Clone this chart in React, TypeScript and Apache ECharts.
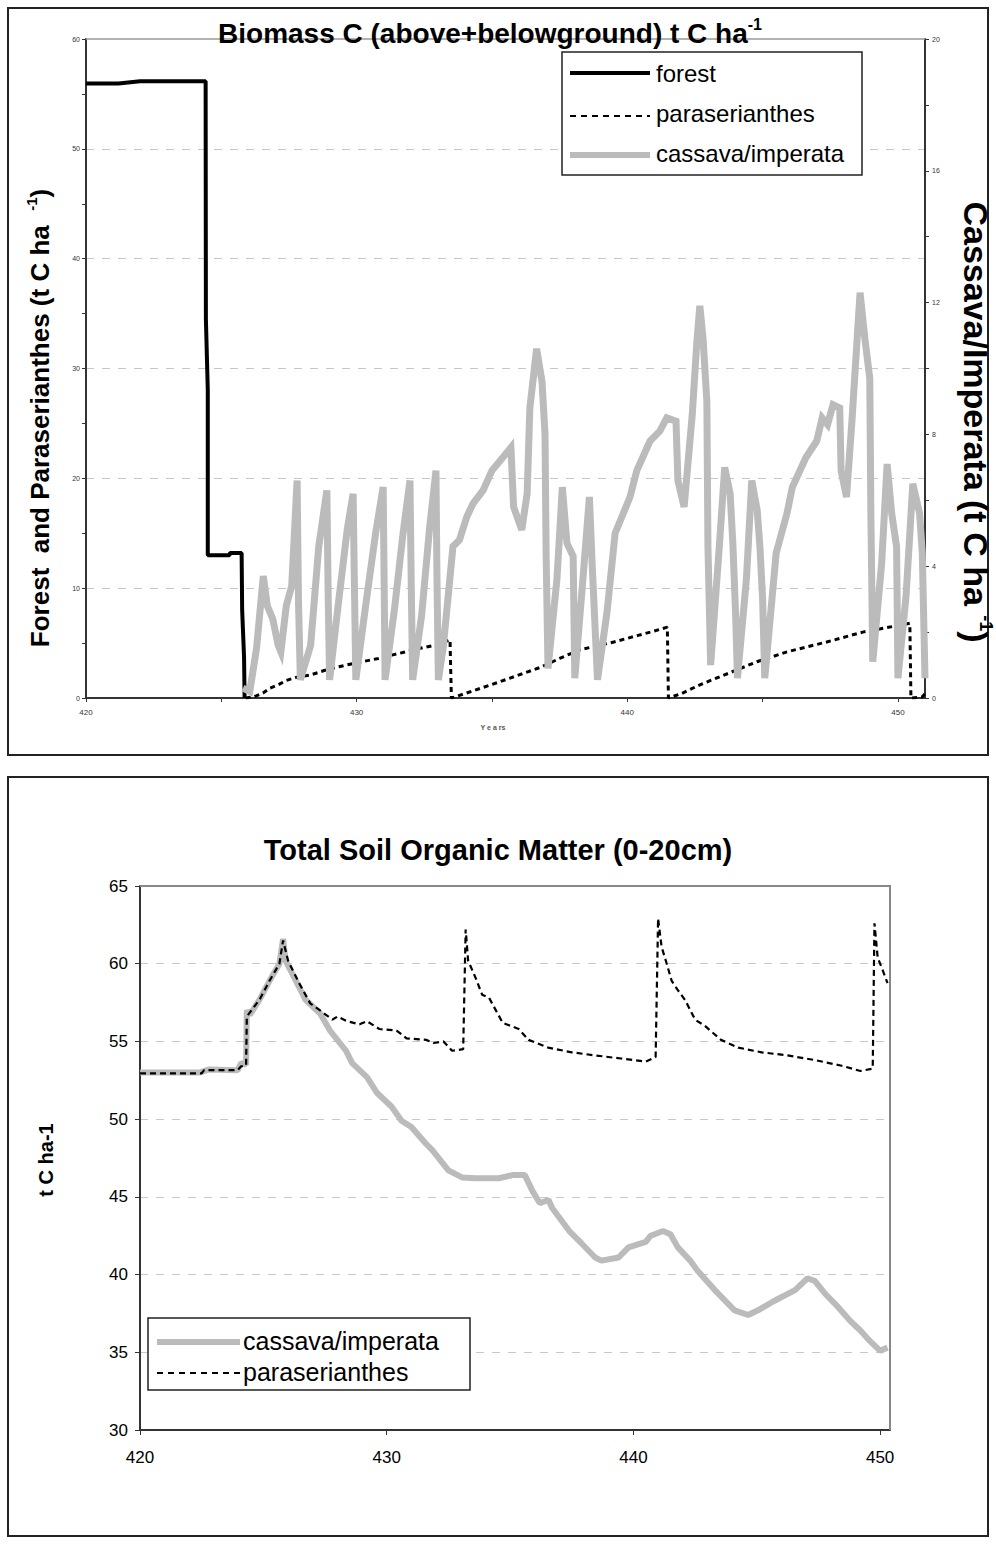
import React, { useEffect, useRef } from 'react';
import * as echarts from 'echarts';

const FONT = "Arial, 'Liberation Sans', Helvetica, sans-serif";

// ---------- Top chart: Biomass C ----------
const topXTicks = [420, 430, 440, 450];
const topLeftTicks = [0, 10, 20, 30, 40, 50, 60];
const topRightTicks = [0, 4, 8, 12, 16, 20];

const forestBiomass: [number, number][] = [
  [420, 55.95], [421.2, 55.95], [422, 56.15], [424.42, 56.15], [424.43, 34.5],
  [424.5, 28], [424.5, 13], [425.3, 13], [425.32, 13.2], [425.75, 13.2],
  [425.77, 8], [425.84, 3.7], [425.86, 0],
];

const paraBiomass: [number, number][] = [
  [425.9, 0], [426.2, 0.1], [426.54, 0.45], [426.8, 0.9], [427.1, 1.2], [427.4, 1.6],
  [427.8, 1.9], [428.3, 2.1], [428.8, 2.5], [429.27, 2.8], [429.8, 3.1], [430.2, 3.3],
  [430.8, 3.6], [431.3, 3.9], [431.8, 4.2], [432.3, 4.5], [432.9, 4.8], [433.45, 5.3],
  [433.5, 0],
  [434.0, 0.4], [434.6, 0.9], [435.2, 1.4], [436.0, 2.1], [436.8, 2.8], [437.5, 3.6],
  [438.25, 4.4], [439.0, 4.8], [439.5, 5.1], [440.4, 5.7], [441.0, 6.1], [441.48, 6.45],
  [441.52, 0],
  [442.0, 0.4], [442.68, 1.2], [443.79, 2.3], [444.79, 3.3], [445.9, 4.2], [447.37, 5.1],
  [448.7, 6.0], [450.44, 6.8], [450.48, 0], [450.9, 0.1], [451, 0.4],
];

const cassavaBiomass: [number, number][] = [
  [425.8, 0.3], [426.05, 0.2], [426.3, 1.5], [426.55, 3.7], [426.7, 2.8], [426.9, 2.4],
  [427.1, 1.6], [427.2, 1.4], [427.4, 2.8], [427.6, 3.4], [427.8, 6.6], [427.85, 3.0],
  [427.92, 0.55], [428.3, 1.6], [428.6, 4.6], [428.9, 6.3], [428.95, 3.0], [429.0, 0.55],
  [429.3, 2.7], [429.65, 5.1], [429.87, 6.2], [429.92, 3.3], [429.97, 0.55], [430.3, 2.6],
  [430.7, 5.0], [430.98, 6.4], [431.02, 3.2], [431.05, 0.55], [431.4, 2.7], [431.7, 4.9],
  [431.97, 6.6], [432.02, 3.3], [432.07, 0.55], [432.4, 2.5], [432.7, 5.2], [432.93, 6.9],
  [432.97, 3.5], [433.02, 0.55], [433.2, 1.55], [433.56, 4.6], [433.8, 4.8], [434.07, 5.5],
  [434.3, 5.9], [434.67, 6.3], [435.0, 6.9], [435.4, 7.3], [435.7, 7.6], [435.8, 5.8],
  [436.1, 5.1], [436.3, 6.2], [436.4, 8.8], [436.65, 10.6], [436.85, 9.6], [436.96, 8.0],
  [437.0, 4.4], [437.07, 0.9], [437.4, 3.6], [437.6, 6.4], [437.77, 4.7], [438.0, 4.3],
  [438.06, 0.6], [438.36, 3.6], [438.6, 6.1], [438.7, 4.1], [438.9, 0.55], [439.25, 2.6],
  [439.55, 5.0], [440.1, 6.1], [440.35, 6.9], [440.84, 7.8], [441.2, 8.1], [441.46, 8.5],
  [441.8, 8.4], [441.87, 6.6], [442.1, 5.8], [442.4, 8.6], [442.57, 10.8], [442.68, 11.9],
  [442.8, 10.9], [442.94, 9.0], [442.98, 4.6], [443.08, 1.0], [443.4, 4.6], [443.6, 7.0],
  [443.8, 6.2], [443.9, 4.7], [444.0, 2.6], [444.07, 0.6], [444.4, 3.6], [444.6, 6.6],
  [444.8, 5.7], [444.9, 4.6], [445.0, 3.0], [445.08, 0.6], [445.5, 4.4], [445.9, 5.6],
  [446.1, 6.4], [446.6, 7.3], [447.0, 7.8], [447.2, 8.5], [447.4, 8.3], [447.6, 8.9],
  [447.85, 8.8], [447.9, 6.9], [448.1, 6.1], [448.3, 8.4], [448.6, 12.3], [448.78, 10.9],
  [448.96, 9.7], [449.0, 5.6], [449.07, 1.1], [449.4, 4.1], [449.6, 7.1], [449.77, 5.6],
  [449.95, 4.6], [450.0, 0.6], [450.3, 3.1], [450.55, 6.5], [450.8, 5.6], [450.9, 4.4],
  [451.0, 0.6],
];

// ---------- Bottom chart: Total Soil Organic Matter ----------
const bottomXTicks = [420, 430, 440, 450];
const bottomYTicks = [30, 35, 40, 45, 50, 55, 60, 65];

const cassavaSOM: [number, number][] = [
  [420, 53.0], [422.4, 53.0], [422.8, 53.2], [423.96, 53.15], [424.1, 53.6], [424.3, 53.5],
  [424.33, 57.0], [424.45, 56.7], [424.85, 57.7], [425.25, 58.9], [425.65, 60.0], [425.8, 61.6],
  [425.9, 60.2], [426.45, 58.5], [426.7, 57.7], [427.3, 56.8], [427.7, 55.7], [428.35, 54.4],
  [428.6, 53.6], [429.2, 52.7], [429.6, 51.7], [430.2, 50.8], [430.6, 49.9], [431.0, 49.5],
  [431.6, 48.4], [431.85, 48.0], [432.5, 46.7], [433.05, 46.25], [433.6, 46.2], [434.55, 46.2],
  [435.1, 46.4], [435.6, 46.4], [435.9, 45.4], [436.2, 44.6], [436.56, 44.8], [436.7, 44.3],
  [437.4, 42.8], [437.9, 42.0], [438.45, 41.1], [438.7, 40.9], [439.4, 41.1], [439.8, 41.75],
  [440.5, 42.1], [440.7, 42.5], [441.2, 42.8], [441.5, 42.6], [441.8, 41.75], [442.3, 40.9],
  [442.6, 40.25], [443.3, 39.0], [444.1, 37.7], [444.65, 37.4], [445.05, 37.7], [445.7, 38.3],
  [446.55, 39.0], [447.05, 39.75], [447.35, 39.6], [447.75, 38.8], [448.3, 37.9], [448.8, 37.0],
  [449.2, 36.4], [449.6, 35.7], [450.0, 35.1], [450.3, 35.3],
];

const paraSOM: [number, number][] = [
  [420, 52.95], [422.5, 52.95], [422.6, 53.15], [423.95, 53.15], [424.1, 53.4], [424.3, 53.45],
  [424.33, 56.6], [424.85, 57.7], [425.25, 58.9], [425.65, 60.0], [425.8, 61.5], [426.0, 60.2],
  [426.45, 58.75], [426.9, 57.45], [427.3, 57.0], [427.8, 56.4], [428.0, 56.6], [428.4, 56.3],
  [428.9, 56.1], [429.2, 56.3], [429.7, 55.8], [430.4, 55.7], [430.8, 55.2], [431.6, 55.1],
  [431.9, 54.9], [432.3, 55.0], [432.65, 54.4], [433.1, 54.5], [433.2, 62.2], [433.3, 60.2],
  [433.6, 59.1], [433.87, 58.0], [434.15, 57.8], [434.7, 56.2], [435.35, 55.8], [435.75, 55.1],
  [436.55, 54.6], [437.5, 54.3], [438.45, 54.1], [439.5, 53.9], [440.5, 53.7], [440.9, 54.0],
  [441.0, 62.9], [441.14, 61.1], [441.35, 60.0], [441.55, 58.9], [441.8, 58.3], [442.1, 57.65],
  [442.5, 56.4], [442.9, 56.0], [443.55, 55.1], [444.25, 54.6], [445.2, 54.3], [446.25, 54.1],
  [447.35, 53.8], [448.4, 53.45], [449.2, 53.1], [449.7, 53.25], [449.77, 62.6], [449.9, 60.4],
  [450.1, 59.6], [450.3, 58.75],
];

const gridLineStyle = { color: '#c8c8c8', type: [8, 8] as number[], width: 1 };

function buildOption() {
  const inList = (list: number[]) => (v: number) =>
    list.some((t) => Math.abs(t - v) < 1e-6) ? String(v) : '';

  return {
    animation: false,
    backgroundColor: '#ffffff',
    textStyle: { fontFamily: FONT },
    grid: [
      { left: 86, top: 39, width: 839, height: 659 },
      { left: 140, top: 886, width: 750, height: 544 },
    ],
    xAxis: [
      {
        gridIndex: 0, type: 'value', min: 420, max: 451, interval: 5,
        axisLine: { show: true, onZero: false, lineStyle: { color: '#333', width: 2 } },
        axisTick: { show: true, length: 4, lineStyle: { color: '#333', width: 1 } },
        axisLabel: { fontSize: 8, color: '#333', margin: 10, formatter: inList(topXTicks), showMaxLabel: false },
        splitLine: { show: false },
      },
      {
        gridIndex: 1, type: 'value', min: 420, max: 450.4, interval: 10,
        axisLine: { show: true, onZero: false, lineStyle: { color: '#333', width: 2 } },
        axisTick: { show: true, length: 5, lineStyle: { color: '#333', width: 1 } },
        axisLabel: { fontSize: 17, color: '#000', margin: 19, formatter: inList(bottomXTicks), showMaxLabel: false },
        splitLine: { show: false },
      },
    ],
    yAxis: [
      {
        gridIndex: 0, type: 'value', min: 0, max: 60, interval: 10, position: 'left',
        axisLine: { show: true, onZero: false, lineStyle: { color: '#333', width: 2 } },
        axisTick: { show: true, length: 4, lineStyle: { color: '#333' } },
        minorTick: { show: true, splitNumber: 2, length: 4, lineStyle: { color: '#333' } },
        axisLabel: { fontSize: 7, color: '#333', margin: 6, formatter: inList(topLeftTicks) },
        splitLine: { show: true, showMinLine: false, showMaxLine: false, lineStyle: gridLineStyle },
      },
      {
        gridIndex: 0, type: 'value', min: 0, max: 20, interval: 4, position: 'right',
        axisLine: { show: true, onZero: false, lineStyle: { color: '#333', width: 2 } },
        axisTick: { show: true, length: 4, lineStyle: { color: '#333' } },
        minorTick: { show: true, splitNumber: 2, length: 4, lineStyle: { color: '#333' } },
        axisLabel: { fontSize: 7, color: '#333', margin: 7, formatter: inList(topRightTicks) },
        splitLine: { show: false },
      },
      {
        gridIndex: 1, type: 'value', min: 30, max: 65, interval: 5, position: 'left',
        axisLine: { show: true, onZero: false, lineStyle: { color: '#333', width: 2 } },
        axisTick: { show: true, length: 5, lineStyle: { color: '#333' } },
        axisLabel: { fontSize: 17, color: '#000', margin: 12, formatter: inList(bottomYTicks) },
        splitLine: { show: true, showMinLine: false, showMaxLine: false, lineStyle: gridLineStyle },
      },
    ],
    series: [
      {
        name: 'forest', type: 'line', xAxisIndex: 0, yAxisIndex: 0, data: forestBiomass,
        showSymbol: false, symbol: 'none', lineStyle: { color: '#000', width: 4 }, z: 3,
      },
      {
        name: 'paraserianthes', type: 'line', xAxisIndex: 0, yAxisIndex: 0, data: paraBiomass,
        showSymbol: false, symbol: 'none', lineStyle: { color: '#000', width: 3, type: [5, 4] }, z: 3,
      },
      {
        name: 'cassava/imperata', type: 'line', xAxisIndex: 0, yAxisIndex: 1, data: cassavaBiomass,
        showSymbol: false, symbol: 'none', lineStyle: { color: '#bbbbbb', width: 7, join: 'miter' }, z: 4,
      },
      {
        name: 'cassava/imperata SOM', type: 'line', xAxisIndex: 1, yAxisIndex: 2, data: cassavaSOM,
        showSymbol: false, symbol: 'none', lineStyle: { color: '#bbbbbb', width: 6 }, z: 3,
      },
      {
        name: 'paraserianthes SOM', type: 'line', xAxisIndex: 1, yAxisIndex: 2, data: paraSOM,
        showSymbol: false, symbol: 'none', lineStyle: { color: '#000', width: 2.2, type: [6, 4] }, z: 4,
      },
    ],
    graphic: [
      // frames
      { type: 'rect', z: 1, shape: { x: 8, y: 8, width: 980, height: 747 }, style: { fill: 'none', stroke: '#222', lineWidth: 2 } },
      { type: 'rect', z: 1, shape: { x: 8, y: 777, width: 980, height: 759 }, style: { fill: 'none', stroke: '#222', lineWidth: 2 } },
      // plot borders
      { type: 'line', z: 1, shape: { x1: 86, y1: 39, x2: 925, y2: 39 }, style: { stroke: '#999', lineWidth: 1.5 } },
      { type: 'polyline', z: 1, shape: { points: [[140, 886], [890, 886], [890, 1430]] }, style: { fill: 'none', stroke: '#888', lineWidth: 2 } },
      // titles
      {
        type: 'text', z: 20, x: 490, y: 33,
        style: {
          text: '{t|Biomass C (above+belowground) t C ha}{s|-1}',
          align: 'center', verticalAlign: 'middle',
          rich: {
            t: { fontSize: 28, fontWeight: 'bold', fontFamily: FONT, fill: '#000', lineHeight: 34 },
            s: { fontSize: 16, fontWeight: 'bold', fontFamily: FONT, fill: '#000', verticalAlign: 'top' },
          },
        },
      },
      {
        type: 'text', z: 20, x: 498, y: 850,
        style: { text: 'Total Soil Organic Matter (0-20cm)', align: 'center', verticalAlign: 'middle', fontSize: 29, fontWeight: 'bold', fontFamily: FONT, fill: '#000' },
      },
      // axis names
      {
        type: 'text', z: 20, x: 40, y: 418, rotation: Math.PI / 2,
        style: {
          text: '{a|Forest  and Paraserianthes (t C ha  }{s|-1}{a|)}',
          align: 'center', verticalAlign: 'middle',
          rich: {
            a: { fontSize: 26, fontWeight: 'bold', fontFamily: FONT, fill: '#000', lineHeight: 32 },
            s: { fontSize: 15, fontWeight: 'bold', fontFamily: FONT, fill: '#000', verticalAlign: 'top' },
          },
        },
      },
      {
        type: 'text', z: 20, x: 976, y: 422, rotation: -Math.PI / 2,
        style: {
          text: '{a|Cassava/Imperata (t C ha }{s|-1}{a|)}',
          align: 'center', verticalAlign: 'middle',
          rich: {
            a: { fontSize: 34, fontWeight: 'bold', fontFamily: FONT, fill: '#000', lineHeight: 38 },
            s: { fontSize: 18, fontWeight: 'bold', fontFamily: FONT, fill: '#000', verticalAlign: 'top' },
          },
        },
      },
      {
        type: 'text', z: 20, x: 493, y: 727,
        style: { text: 'Y e a rs', align: 'center', verticalAlign: 'middle', fontSize: 7, fontWeight: 'bold', fontFamily: FONT, fill: '#555' },
      },
      {
        type: 'text', z: 20, x: 46, y: 1160, rotation: Math.PI / 2,
        style: { text: 't C ha-1', align: 'center', verticalAlign: 'middle', fontSize: 20, fontWeight: 'bold', fontFamily: FONT, fill: '#000' },
      },
      // top legend
      { type: 'rect', z: 20, shape: { x: 562, y: 52, width: 300, height: 123 }, style: { fill: '#fff', stroke: '#222', lineWidth: 1.5 } },
      { type: 'line', z: 21, shape: { x1: 570, y1: 73, x2: 650, y2: 73 }, style: { stroke: '#000', lineWidth: 4 } },
      { type: 'text', z: 21, x: 656, y: 73, style: { text: 'forest', verticalAlign: 'middle', fontSize: 24, fontFamily: FONT, fill: '#000' } },
      { type: 'line', z: 21, shape: { x1: 570, y1: 116, x2: 650, y2: 116 }, style: { stroke: '#000', lineWidth: 2, lineDash: [6, 5] } },
      { type: 'text', z: 21, x: 656, y: 113, style: { text: 'paraserianthes', verticalAlign: 'middle', fontSize: 24, fontFamily: FONT, fill: '#000' } },
      { type: 'line', z: 21, shape: { x1: 570, y1: 155, x2: 650, y2: 155 }, style: { stroke: '#bbbbbb', lineWidth: 6 } },
      { type: 'text', z: 21, x: 656, y: 153, style: { text: 'cassava/imperata', verticalAlign: 'middle', fontSize: 24, fontFamily: FONT, fill: '#000' } },
      // bottom legend
      { type: 'rect', z: 20, shape: { x: 148, y: 1318, width: 322, height: 72 }, style: { fill: '#fff', stroke: '#222', lineWidth: 1.5 } },
      { type: 'line', z: 21, shape: { x1: 157, y1: 1342, x2: 240, y2: 1342 }, style: { stroke: '#bbbbbb', lineWidth: 6 } },
      { type: 'text', z: 21, x: 243, y: 1341, style: { text: 'cassava/imperata', verticalAlign: 'middle', fontSize: 25, fontFamily: FONT, fill: '#000' } },
      { type: 'line', z: 21, shape: { x1: 157, y1: 1373, x2: 240, y2: 1373 }, style: { stroke: '#000', lineWidth: 2, lineDash: [6, 5] } },
      { type: 'text', z: 21, x: 243, y: 1372, style: { text: 'paraserianthes', verticalAlign: 'middle', fontSize: 25, fontFamily: FONT, fill: '#000' } },
    ],
  };
}

export default function App() {
  const ref = useRef<HTMLDivElement>(null);
  useEffect(() => {
    if (!ref.current) return;
    const chart = echarts.init(ref.current, null, { renderer: 'svg' });
    chart.setOption(buildOption() as any);
    return () => chart.dispose();
  }, []);
  return (
    <div
      ref={ref}
      style={{ position: 'absolute', left: 0, top: 0, width: 996, height: 1544, background: '#fff' }}
    />
  );
}
